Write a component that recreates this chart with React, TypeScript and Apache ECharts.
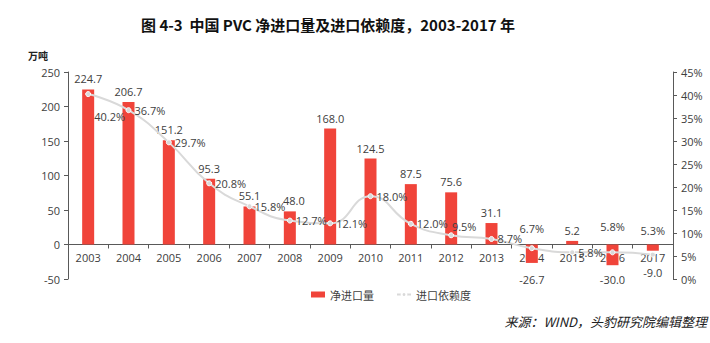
import React, { useEffect, useRef } from "react";
import * as echarts from "echarts";

const years = ["2003","2004","2005","2006","2007","2008","2009","2010","2011","2012","2013","2014","2015","2016","2017"];
const netImports = [224.7, 206.7, 151.2, 95.3, 55.1, 48.0, 168.0, 124.5, 87.5, 75.6, 31.1, -26.7, 5.2, -30.0, -9.0];
const dependency = [40.2, 36.7, 29.7, 20.8, 15.8, 12.7, 12.1, 18.0, 12.0, 9.5, 8.7, 6.7, 5.8, 5.8, 5.3];
const leftTicks = [-50, 0, 50, 100, 150, 200, 250];
const rightTicks = [0, 5, 10, 15, 20, 25, 30, 35, 40, 45];

const FONT = "'Open Sans', 'Noto Sans CJK SC', sans-serif";
const TXT = "#404040";

export default function App() {
  const ref = useRef<HTMLDivElement>(null);
  useEffect(() => {
    document.body.style.margin = "0";
    const chart = echarts.init(ref.current!, null, { renderer: "svg" });
    const linePos: Record<number, any> = {
      0: { position: "right", offset: [0, 22] },
      4: { position: "right", offset: [-1, 0] },
      9: { position: "top", offset: [13, 3] },
      11: { position: "top", offset: [0, -8] },
      13: { position: "top", offset: [0, -14] },
      14: { position: "top", offset: [0, -13] },
    };
    const barPos: Record<number, any> = {
      5: { position: "top", offset: [4, 0] },
      11: { position: "bottom", offset: [0, 6] },
      13: { position: "bottom", offset: [0, 4] },
      14: { position: "bottom", offset: [0, 11] },
    };
    const gridH = 207;
    const zeroOffset = -gridH * (0 - leftTicks[0]) / (leftTicks[leftTicks.length - 1] - leftTicks[0]);
    chart.setOption({
      animation: false,
      textStyle: { fontFamily: FONT },
      title: {
        text: "图 4-3  中国 PVC 净进口量及进口依赖度，2003-2017 年",
        left: 136,
        top: 12,
        textStyle: { fontSize: 15, fontWeight: "bold", color: "#111", fontFamily: "'Noto Sans CJK SC', sans-serif" },
      },
      graphic: [
        { type: "text", left: 28, top: 50, style: { text: "万吨", fontSize: 10, fontWeight: "bold", fill: "#222", fontFamily: "'Noto Sans CJK SC', sans-serif" } },
        { type: "text", right: 3, top: 315, style: { text: "来源：WIND，头豹研究院编辑整理", fontSize: 13, fontStyle: "italic", fill: "#222", fontFamily: "'Noto Sans CJK SC', sans-serif" } },
      ],
      legend: {
        bottom: 38,
        left: 306,
        itemGap: 22,
        itemWidth: 14,
        itemHeight: 6,
        textStyle: { fontSize: 11, color: TXT, fontFamily: "'Noto Sans CJK SC', sans-serif" },
        data: [
          { name: "净进口量", icon: "rect" },
          { name: "进口依赖度" },
        ],
      },
      grid: { left: 68, right: 37, top: 72, height: gridH },
      xAxis: {
        type: "category",
        data: years,
        position: "bottom",
        offset: zeroOffset,
        axisLine: { onZero: false, lineStyle: { color: "#595959" } },
        axisTick: { show: true, alignWithLabel: false, length: 4, lineStyle: { color: "#595959" } },
        axisLabel: { color: TXT, fontSize: 11, margin: 7 },
      },
      yAxis: [
        {
          type: "value",
          min: leftTicks[0],
          max: leftTicks[leftTicks.length - 1],
          interval: 50,
          splitLine: { show: false },
          axisLine: { show: true, lineStyle: { color: "#595959" } },
          axisTick: { show: true, length: 4, lineStyle: { color: "#595959" } },
          axisLabel: { color: TXT, fontSize: 11, margin: 8 },
        },
        {
          type: "value",
          min: rightTicks[0],
          max: rightTicks[rightTicks.length - 1],
          interval: 5,
          splitLine: { show: false },
          axisLine: { show: true, lineStyle: { color: "#595959" } },
          axisTick: { show: true, length: 4, lineStyle: { color: "#595959" } },
          axisLabel: { color: TXT, fontSize: 11, margin: 8, formatter: "{value}%" },
        },
      ],
      series: [
        {
          name: "净进口量",
          type: "bar",
          barWidth: 12,
          itemStyle: { color: "#f0443a" },
          data: netImports.map((v, i) => ({ value: v, label: barPos[i] || {} })),
          label: {
            show: true,
            position: "top",
            color: TXT,
            fontSize: 11,
            formatter: (p: any) => Number(p.value).toFixed(1),
          },
        },
        {
          name: "进口依赖度",
          type: "line",
          yAxisIndex: 1,
          smooth: true,
          symbol: "circle",
          symbolSize: 5,
          lineStyle: { color: "#d9d9d9", width: 2 },
          itemStyle: { color: "#d9d9d9", borderColor: "#ffffff", borderWidth: 1 },
          data: dependency.map((v, i) => ({ value: v, label: linePos[i] || {} })),
          label: {
            show: true,
            position: "right",
            distance: 3,
            color: TXT,
            fontSize: 11,
            formatter: (p: any) => Number(p.value).toFixed(1) + "%",
          },
          z: 3,
        },
      ],
    });
    return () => chart.dispose();
  }, []);
  return <div ref={ref} style={{ width: 710, height: 343 }} />;
}
